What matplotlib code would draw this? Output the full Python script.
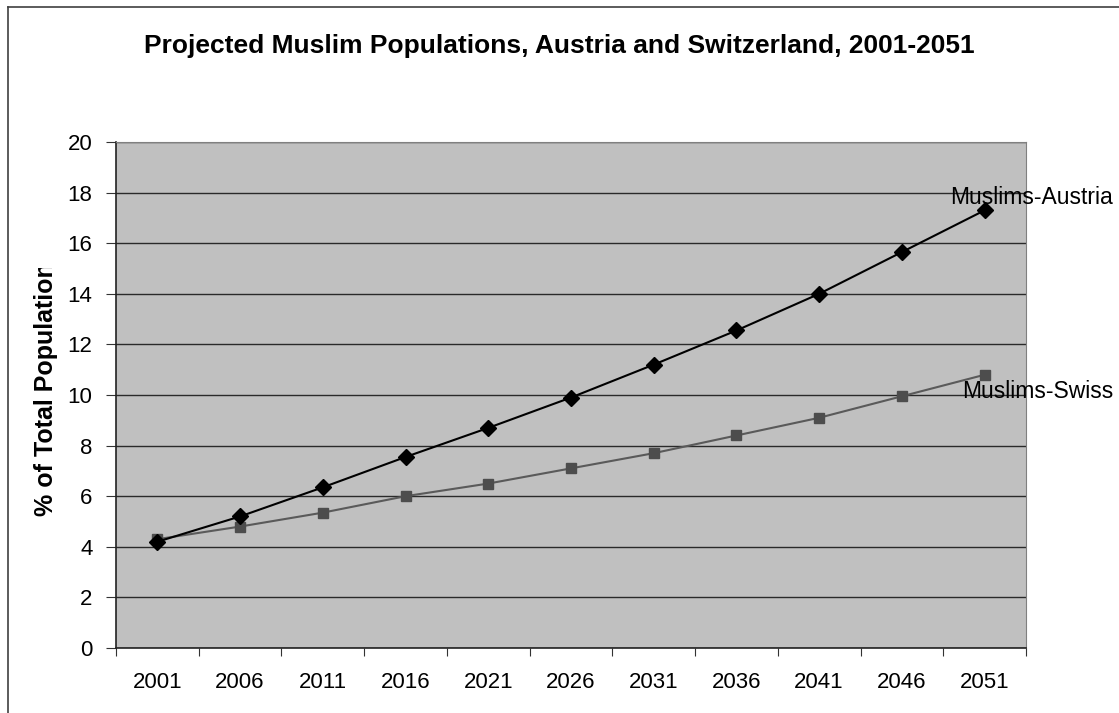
import matplotlib.pyplot as plt
from matplotlib.lines import Line2D
from matplotlib.transforms import Bbox
import numpy as np

plt.rcParams['font.family'] = ['Liberation Sans', 'DejaVu Sans']

years = ['2001', '2006', '2011', '2016', '2021', '2026', '2031', '2036', '2041', '2046', '2051']
austria = [4.2, 5.2, 6.35, 7.55, 8.7, 9.9, 11.2, 12.55, 14.0, 15.65, 17.3]
swiss = [4.3, 4.8, 5.35, 6.0, 6.5, 7.1, 7.7, 8.4, 9.1, 9.95, 10.8]

W, H = 1119, 713
fig = plt.figure(figsize=(W / 100, H / 100), dpi=100)
# plot area in pixels: left 116, right 1026, top 142, bottom 648
ax = fig.add_axes([116 / W, 1 - 648 / H, (1026 - 116) / W, (648 - 142) / H])
ax.set_facecolor('#c0c0c0')

x = np.arange(len(years))
ax.plot(x, austria, color='black', lw=1.5, marker='D', ms=8, mfc='black', mec='black', zorder=4)
ax.plot(x, swiss, color='#5a5a5a', lw=1.5, marker='s', ms=7.5, mfc='#4d4d4d', mec='#4d4d4d', zorder=3)

ax.set_xlim(-0.5, len(years) - 0.5)
ax.set_ylim(0, 20)
ax.set_yticks(range(0, 21, 2))
ax.yaxis.grid(True, color='#2a2a2a', lw=1)
ax.set_axisbelow(True)

# category boundaries carry the ticks, centres carry the labels
ax.set_xticks(np.arange(-0.5, len(years), 1.0))
ax.set_xticklabels([])
ax.set_xticks(x, minor=True)
ax.set_xticklabels(years, minor=True, fontsize=16)
ax.tick_params(axis='x', which='major', direction='out', length=6, color='#333333')
ax.tick_params(axis='x', which='minor', length=0, pad=17)
ax.tick_params(axis='y', direction='out', length=7, color='#333333', labelsize=16, pad=10)

for side in ['top', 'right']:
    ax.spines[side].set_color('#808080')
for side in ['left', 'bottom']:
    ax.spines[side].set_color('#222222')
    ax.spines[side].set_linewidth(1.2)

fig.text(0.5, 1 - 46 / H, 'Projected Muslim Populations, Austria and Switzerland, 2001-2051',
         ha='center', va='center', fontsize=19, fontweight='bold')

# axis title is cut off at the top, the last letter is only half shown
ylab = fig.text(46 / W, 1 - 516 / H, '% of Total Population', rotation=90,
                ha='center', va='bottom', fontsize=18, fontweight='bold')
ylab.set_clip_box(Bbox([[0, 0], [1, 1 - 268 / H]]).transformed(fig.transFigure))
ylab.set_clip_on(True)

fig.text(950 / W, 1 - 197 / H, 'Muslims-Austria', ha='left', va='center', fontsize=16.5)
fig.text(962 / W, 1 - 392 / H, 'Muslims-Swiss', ha='left', va='center', fontsize=16.5)

# outer chart frame, only the left and top edges fall inside the image
fig.add_artist(Line2D([8 / W, 8 / W], [0, 1 - 7 / H], color='#404040', lw=1.2))
fig.add_artist(Line2D([8 / W, 1], [1 - 7 / H, 1 - 7 / H], color='#404040', lw=1.2))

fig.savefig('out.png', dpi=100)
